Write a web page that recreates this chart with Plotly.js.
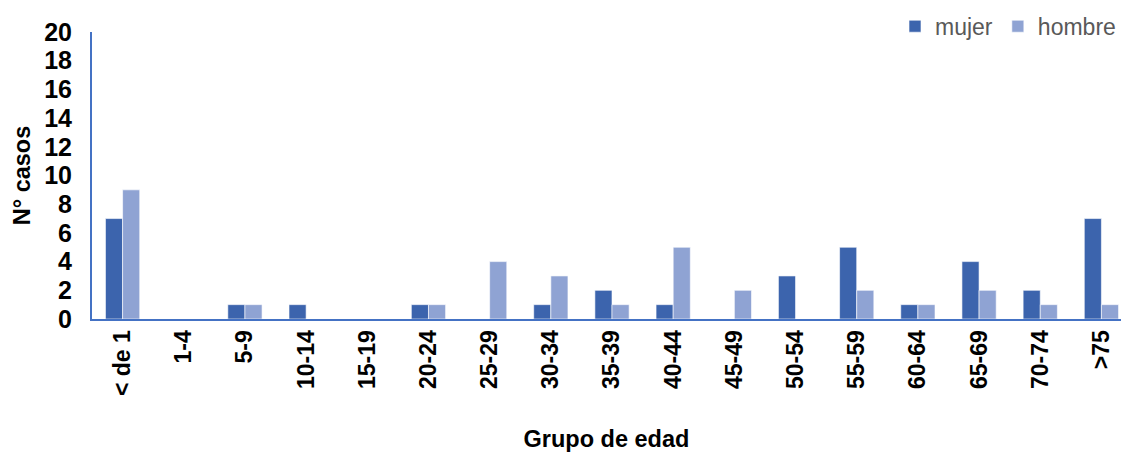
<!DOCTYPE html>
<html><head><meta charset="utf-8">
<script src="https://cdn.plot.ly/plotly-3.0.1.min.js"></script>
<style>body{margin:0;background:#fff}#c{width:1121px;height:455px}</style>
</head><body><div id="c"></div>
<script>
const categories = ["< de 1","1-4","5-9","10-14","15-19","20-24","25-29","30-34","35-39","40-44","45-49","50-54","55-59","60-64","65-69","70-74",">75"];
const mujer  = [7,0,1,1,0,1,0,1,2,1,0,3,5,1,4,2,7];
const hombre = [9,0,1,0,0,1,4,3,1,5,2,0,2,1,2,1,1];
const yTicks = [0,2,4,6,8,10,12,14,16,18,20];

const data = [
  {type:'bar', name:'mujer', x:categories, y:mujer, marker:{color:'#3C64AD', line:{color:'#ffffff', width:0.6}}},
  {type:'bar', name:'hombre', x:categories, y:hombre, marker:{color:'#8FA3D3', line:{color:'#ffffff', width:0.6}}}
];
const layout = {
  width:1121, height:455,
  margin:{l:92, r:0, t:32, b:136},
  paper_bgcolor:'#fff', plot_bgcolor:'#fff',
  font:{family:'Liberation Sans, Arial, sans-serif', color:'#000'},
  barmode:'group', bargap:0.44, bargroupgap:0,
  showlegend:true,
  legend:{orientation:'h', x:1.0, xanchor:'right', y:1.02, yanchor:'middle',
    font:{size:23, color:'#595959'}, traceorder:'normal', itemwidth:20, bgcolor:'rgba(0,0,0,0)'},
  xaxis:{type:'category', range:[-0.5,16.32], showline:true, linecolor:'#4472C4', linewidth:2, ticks:'', tickangle:-90,
    ticklabelstandoff:0,
    tickfont:{size:23, weight:'bold', color:'#000'},
    title:{text:'<b>Grupo de edad</b>', font:{size:23.5}, standoff:35}, automargin:false},
  yaxis:{range:[0,20], tickvals:yTicks, showgrid:false, zeroline:false, showline:true, linecolor:'#4472C4', linewidth:2, ticks:'',
    ticklabelstandoff:13,
    tickfont:{size:25, weight:'bold', color:'#000'},
    title:{text:'<b>N° casos</b>', font:{size:23.5}, standoff:7}, automargin:false}
};
Plotly.newPlot('c', data, layout, {displayModeBar:false, staticPlot:true});
</script></body></html>
